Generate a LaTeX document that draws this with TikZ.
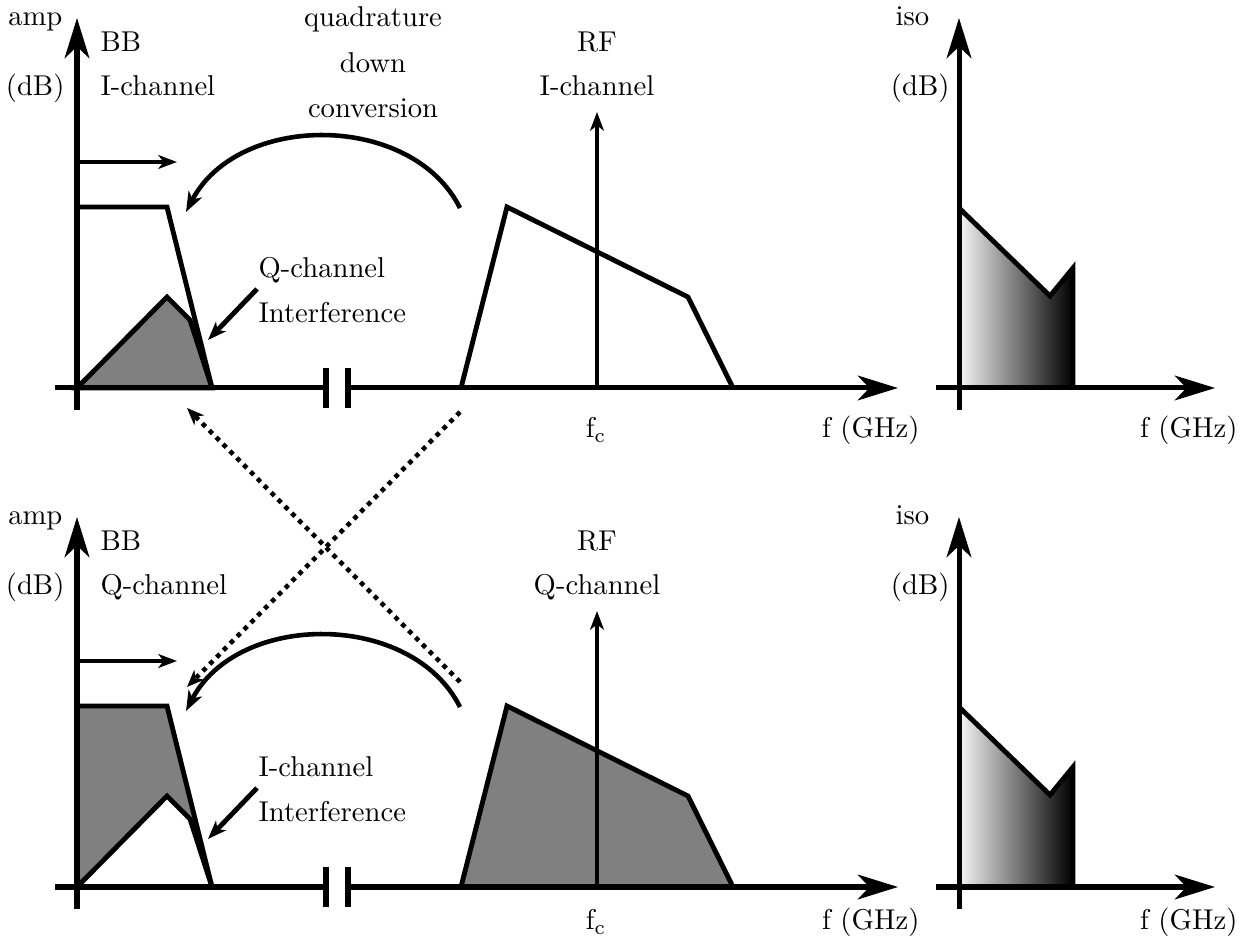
\documentclass[tikz,border=0pt]{standalone}
\usetikzlibrary{arrows.meta}
\tikzset{
  axisarr/.style={line width=1.75pt, -{Stealth[length=14pt,width=8.6pt,inset=4pt]}},
  axisline/.style={line width=1.75pt},
  thinarr/.style={line width=1.3pt, -{Stealth[length=6.5pt,width=4.8pt,inset=1.8pt]}},
  curvarr/.style={line width=1.6pt, -{Stealth[length=7pt,width=5.2pt,inset=2pt]}},
  dotarr/.style={line width=1.6pt, dash pattern=on 1.6pt off 1.8pt, -{Stealth[length=6pt,width=4.8pt,inset=1.8pt]}},
  specline/.style={line width=1.7pt, line join=miter},
  lbl/.style={inner sep=0pt},
}
\newcommand\spectrumpanel[4]{%
  % #1 BB channel name, #2 RF channel name, #3 baseline of f labels, #4 bottom (1) or top (0)
  \coordinate (yb) at (77,410); \coordinate (yt) at (77,18);
  \coordinate (xl) at (55,388); \coordinate (xg1) at (326,388);
  \coordinate (xg2) at (348,388); \coordinate (xr) at (898,388);
  \coordinate (g1t) at (326,368); \coordinate (g1b) at (326,408);
  \coordinate (g2t) at (348,368); \coordinate (g2b) at (348,408);
  % BB spectra
  \coordinate (bb1) at (77,207); \coordinate (bb2) at (167,207); \coordinate (bb3) at (212,388);
  \coordinate (bbo) at (77,388);
  \coordinate (in1) at (167,297); \coordinate (in2) at (190,320);
  \ifnum#4=1
    \fill[gray] (bb1) -- (bb2) -- (bb3) -- (bbo) -- cycle;
    \fill[white] (bbo) -- (in1) -- (in2) -- (bb3) -- cycle;
    \draw[specline] (bbo) -- (in1) -- (in2) -- (bb3);
  \else
    \filldraw[fill=gray, specline] (bbo) -- (in1) -- (in2) -- (bb3) -- cycle;
  \fi
  \draw[specline] (bb1) -- (bb2) -- (bb3);
  % RF spectrum
  \coordinate (rf1) at (461,388); \coordinate (rf2) at (507,207);
  \coordinate (rf3) at (688,297); \coordinate (rf4) at (733,388);
  \ifnum#4=1
    \filldraw[fill=gray, specline] (rf1) -- (rf2) -- (rf3) -- (rf4);
  \else
    \draw[specline] (rf1) -- (rf2) -- (rf3) -- (rf4);
  \fi
  \coordinate (fcb) at (597,388); \coordinate (fct) at (597,112);
  \draw[thinarr] (fcb) -- (fct);
  % axes
  \draw[axisarr] (yb) -- (yt);
  \draw[axisline] (xl) -- (xg1);
  \draw[axisarr] (xg2) -- (xr);
  \draw[axisline] (g1t) -- (g1b);
  \draw[axisline] (g2t) -- (g2b);
  % small arrows
  \coordinate (ha1) at (77,162); \coordinate (ha2) at (177,162);
  \draw[thinarr] (ha1) -- (ha2);
  \coordinate (ia1) at (257,289); \coordinate (ia2) at (208,340);
  \draw[line width=1.7pt, -{Stealth[length=6.5pt,width=4.8pt,inset=1.8pt]}] (ia1) -- (ia2);
  \coordinate (ca1) at (460,208); \coordinate (ca2) at (186,212);
  \draw[curvarr] (ca1) .. controls (412,112) and (238,112) .. (ca2);
  % labels
  \node[lbl, anchor=base east] (amp) at (63,26) {amp};
  \node[lbl, anchor=base east] (db) at (65,96) {(dB)};
  \node[lbl, anchor=base west] (bb) at (100,52) {BB};
  \node[lbl, anchor=base west] (bbch) at (100,96) {#1-channel};
  \node[lbl, anchor=base] (rf) at (597,52) {RF};
  \node[lbl, anchor=base] (rfch) at (597,96) {#2-channel};
  \node[lbl, anchor=base] (fc) at (596,#3) {f\textsubscript{c}};
  \node[lbl, anchor=base east] (fghz) at (920,#3) {f (GHz)};
  % iso panel
  \coordinate (iyb) at (959,410); \coordinate (iyt) at (959,18);
  \coordinate (ixl) at (936,388); \coordinate (ixr) at (1215,388);
  \coordinate (is1) at (959,208); \coordinate (is2) at (1050,296);
  \coordinate (is3) at (1073,268); \coordinate (is4) at (1073,388);
  \shade[left color=gray!8, right color=black, draw=gray!60, line width=0.6pt]
    (is1) -- (is2) -- (is3) -- (is4) -- (959,388) -- cycle;
  \draw[specline] (is1) -- (is2) -- (is3) -- (is4);
  \draw[axisarr] (iyb) -- (iyt);
  \draw[axisarr] (ixl) -- (ixr);
  \node[lbl, anchor=base west] (iso) at (895,26) {iso};
  \node[lbl, anchor=base east] (idb) at (950,96) {(dB)};
  \node[lbl, anchor=base east] (ifghz) at (1238,#3) {f (GHz)};
}
\begin{document}
\begin{tikzpicture}[x=0.349pt, y=-0.349pt]
\useasboundingbox (0,0) rectangle (1250,944);
\begin{scope}[name prefix=t-]
  \spectrumpanel{I}{I}{438}{0}
  \node[lbl, anchor=base west] (qint1) at (258,278) {Q-channel};
  \node[lbl, anchor=base west] (qint2) at (258,323) {Interference};
  \node[lbl, anchor=base] (quad1) at (373,27) {quadrature};
  \node[lbl, anchor=base] (quad2) at (373,73) {down};
  \node[lbl, anchor=base] (quad3) at (373,118) {conversion};
\end{scope}
\begin{scope}[name prefix=b-, shift={(0,499)}]
  \spectrumpanel{Q}{Q}{431}{1}
  \node[lbl, anchor=base west] (iint1) at (258,278) {I-channel};
  \node[lbl, anchor=base west] (iint2) at (258,323) {Interference};
\end{scope}
% crossing dotted arrows
\coordinate (d1s) at (460,412); \coordinate (d1e) at (187,687);
\coordinate (d2s) at (460,682); \coordinate (d2e) at (187,408);
\draw[dotarr] (d1s) -- (d1e);
\draw[dotarr] (d2s) -- (d2e);
\end{tikzpicture}
\end{document}
